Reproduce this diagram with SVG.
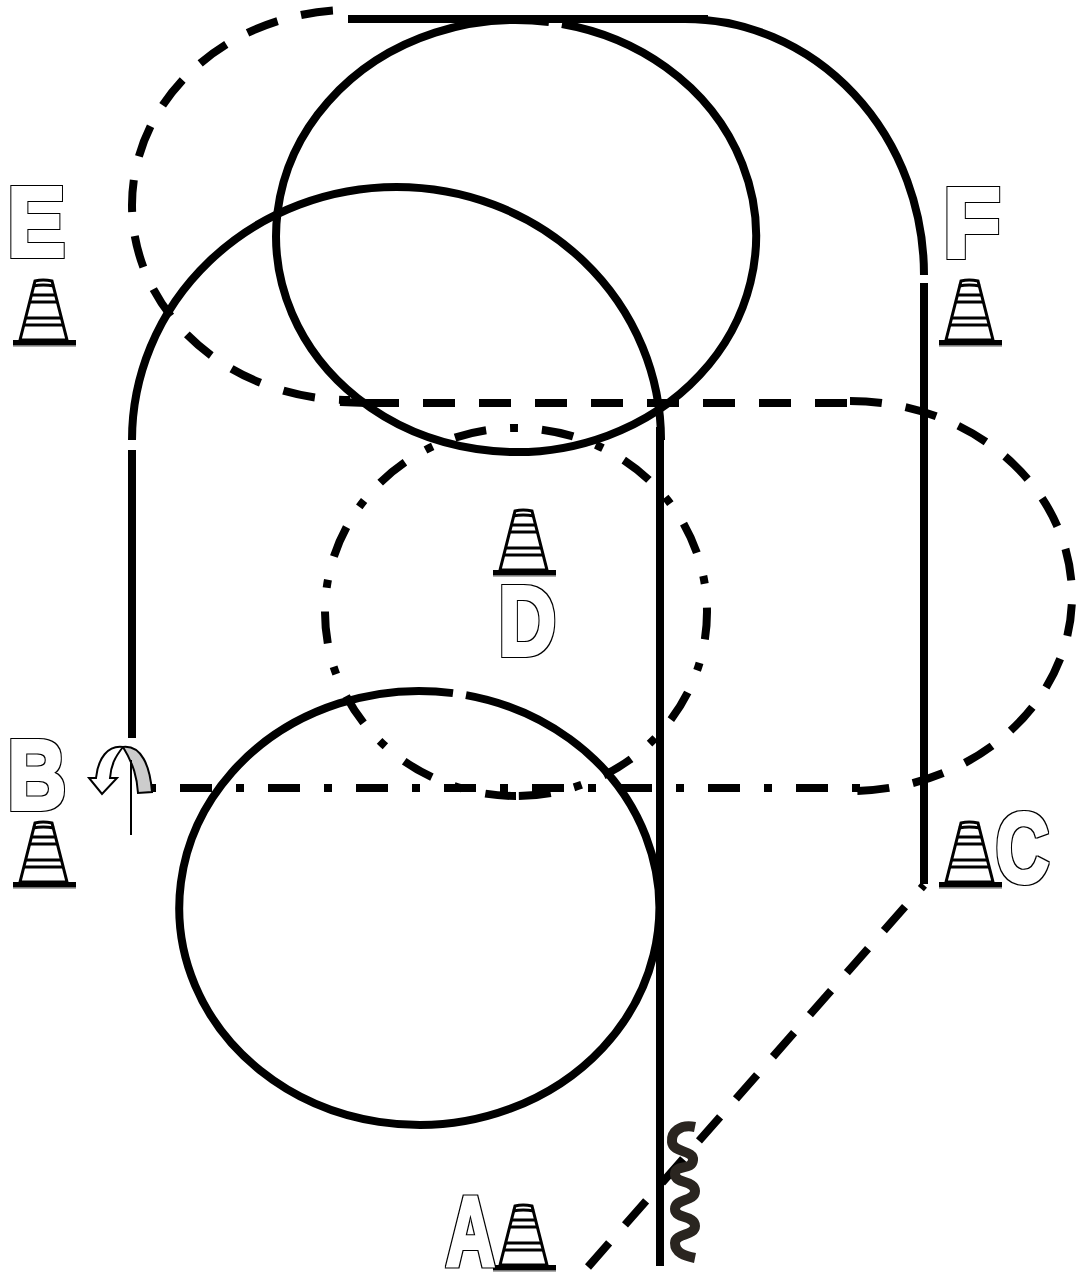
<svg xmlns="http://www.w3.org/2000/svg" width="1076" height="1274" viewBox="0 0 1076 1274">
<style>
.s{fill:none;stroke:#000;stroke-width:8}
.d{stroke-dasharray:32 24}
.dd{stroke-dasharray:8 24 32 24}
.t{font-family:"Liberation Sans",Arial,sans-serif;font-weight:700;font-size:99px;fill:#000;stroke:#000;stroke-width:4;stroke-linejoin:miter;filter:url(#outline)}
.c{fill:#fff;stroke:#000;stroke-width:3}
.b{fill:none;stroke:#000;stroke-width:3}
</style>
<defs>
<filter id="outline" x="-30%" y="-30%" width="160%" height="160%" color-interpolation-filters="sRGB">
<feFlood flood-color="#fff" result="w"/>
<feComposite in="w" in2="SourceAlpha" operator="in" result="inner"/>
<feMorphology in="SourceAlpha" operator="dilate" radius="1" result="fat"/>
<feFlood flood-color="#000" result="k"/>
<feComposite in="k" in2="fat" operator="in" result="edge"/>
<feMerge><feMergeNode in="edge"/><feMergeNode in="inner"/></feMerge>
</filter>
<g id="cone">
<path class="c" d="M7 60 L22 1 Q30 -1 39 1 L54 60 Z"/>
<path class="b" d="M20 6 Q30 4 41 6"/>
<path class="b" d="M18 15 H43 M16 22 H45 M12 38 H49 M10 45 H51"/>
<rect x="0" y="60" width="63" height="5" fill="#000"/>
<rect x="0" y="65" width="63" height="1.6" fill="#777"/>
</g>
</defs>
<rect width="1076" height="1274" fill="#fff"/>
<g id="connectors">
<path class="s" d="M562 24 A240 216 0 1 1 549 22.05"/>
<path class="s" d="M466 695.1 A240 217 0 1 1 453 693.1"/>
<path class="s" d="M132 738 V450 M132 440 A264.5 253 0 0 1 661 440"/>
<path class="s" d="M660 427 V1266"/>
<path class="s" d="M348 19 H708"/>
<path class="s" d="M685 19 A239 256 0 0 1 924 275 M924 283 V884"/>
<path class="s d" pathLength="644" stroke-dashoffset="39" d="M350 10 A218 195 0 0 0 350 400"/>
<path class="s" d="M340 402 L367 403"/>
<path class="s d" d="M367 403 H850"/>
<path class="s d" d="M850 401 A222 195 0 0 1 850 791"/>
<path class="s dd" d="M148 788 H860"/>
<path class="s dd" stroke-dashoffset="6" d="M516 428 A191 184 0 0 1 516 796"/>
<path class="s dd" stroke-dashoffset="2" d="M516 428 A191 184 0 0 0 516 796"/>
<path class="s d" d="M588 1267 L924 885"/>
<path fill="none" stroke="#2a2520" stroke-width="10" d="M695 1127 C680 1124 671 1132 672 1142 C673 1153 694 1150 693 1160 C692 1171 675 1164 675 1174 C675 1184 695 1180 695 1191 C695 1202 675 1198 675 1209 C675 1219 695 1215 695 1226 C695 1236 675 1233 675 1243 C675 1253 685 1256 695 1258"/>
<g id="uturn">
<path fill="#ccc" stroke="#000" stroke-width="2" d="M123 747 C141 745 150 765 152 792 L138 793 C137 778 134 765 123 747 Z"/>
<path fill="#fff" stroke="#000" stroke-width="2" d="M123 747 C108 745 98 758 96 778 L89 778 L102 794 L117 778 L110 778 C111 765 115 757 123 747 Z"/>
<path fill="none" stroke="#000" stroke-width="2" d="M131 760 V835"/>
</g>
</g>
<g id="node-e"><use href="#cone" x="13" y="280"/><text class="t" transform="translate(7.3,256) scale(.88,1)">E</text></g>
<g id="node-f"><use href="#cone" x="939" y="280"/><text class="t" transform="translate(943,257) scale(.955,1)">F</text></g>
<g id="node-b"><use href="#cone" x="13" y="822"/><text class="t" transform="translate(7.6,809) scale(.82,1)">B</text></g>
<g id="node-c"><use href="#cone" x="939" y="822"/><text class="t" transform="translate(995.8,882) scale(.745,1)">C</text></g>
<g id="node-d"><use href="#cone" x="493" y="510"/><text class="t" transform="translate(498.6,655) scale(.805,1)">D</text></g>
<g id="node-a"><use href="#cone" x="493" y="1205"/><text class="t" transform="translate(446,1265) scale(.685,1)">A</text></g>
</svg>
